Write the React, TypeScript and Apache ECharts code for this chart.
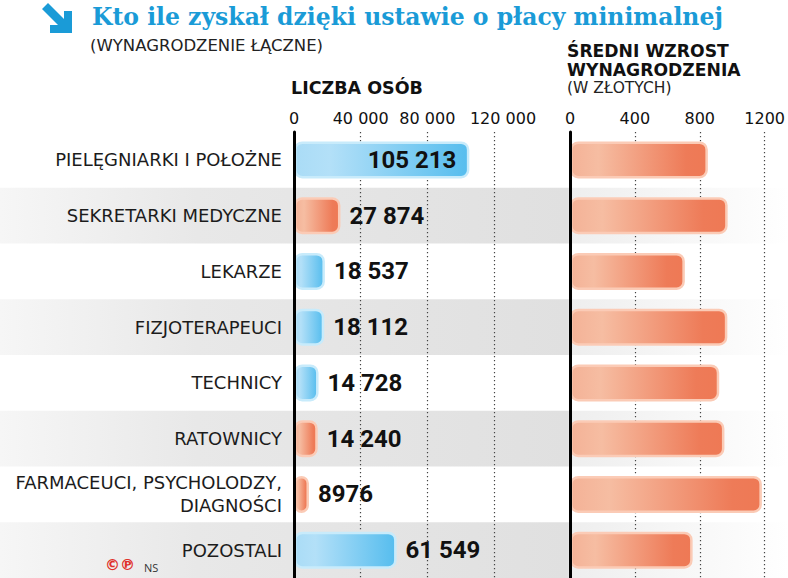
import React, { useEffect, useRef } from "react";
import * as echarts from "echarts";

const categories = [
  "PIELĘGNIARKI I POŁOŻNE",
  "SEKRETARKI MEDYCZNE",
  "LEKARZE",
  "FIZJOTERAPEUCI",
  "TECHNICY",
  "RATOWNICY",
  "FARMACEUCI, PSYCHOLODZY,\nDIAGNOŚCI",
  "POZOSTALI",
];
const peopleCount = [105213, 27874, 18537, 18112, 14728, 14240, 8976, 61549];
const peopleColorGroup = ["blue", "orange", "blue", "blue", "blue", "orange", "orange", "blue"];
const avgRaise = [850, 972, 708, 970, 920, 952, 1183, 756];
const peopleTicks = { min: 0, max: 120000, interval: 40000 };
const raiseTicks = { min: 0, max: 1200, interval: 400 };

const fmt = (v: number) => {
  if (v < 10000) return String(v);
  return String(v).replace(/\B(?=(\d{3})+(?!\d))/g, " ");
};

const blueGrad = () =>
  new echarts.graphic.LinearGradient(0, 0, 1, 0, [
    { offset: 0, color: "#aadcf6" },
    { offset: 0.2, color: "#b3e0f8" },
    { offset: 1, color: "#56bdee" },
  ]);
const orangeGrad = () =>
  new echarts.graphic.LinearGradient(0, 0, 1, 0, [
    { offset: 0, color: "#f4b297" },
    { offset: 0.2, color: "#f6bda2" },
    { offset: 0.85, color: "#ee7b58" },
    { offset: 1, color: "#ee7955" },
  ]);

export default function App() {
  const ref = useRef<HTMLDivElement>(null);
  useEffect(() => {
    document.body.style.margin = "0";
    const chart = echarts.init(ref.current!, null, { renderer: "svg" });
    const bandGrad = new echarts.graphic.LinearGradient(0, 0, 1, 0, [
      { offset: 0, color: "#f6f6f6" },
      { offset: 0.25, color: "#e8e8e8" },
      { offset: 0.72, color: "#e0e0e0" },
      { offset: 0.7236, color: "#eeeeee" },
      { offset: 1, color: "#ffffff" },
    ]);
    const sans = "'DejaVu Sans', 'Open Sans', sans-serif";
    const splitLine = {
      show: true,
      lineStyle: { type: [1.2, 2.8], color: "#444", width: 1.2 },
    };
    const tickLabel = {
      margin: 6,
      fontSize: 16,
      color: "#111",
      fontFamily: sans,
    };
    chart.setOption({
      animation: false,
      grid: [
        { left: 294, width: 200, top: 132, height: 446 },
        { left: 570, width: 199, top: 132, height: 446 },
        { left: 0, right: 0, top: 132, height: 446 },
      ],
      xAxis: [
        {
          gridIndex: 0,
          type: "value",
          position: "top",
          ...peopleTicks,
          axisLine: { show: false },
          axisTick: { show: false },
          axisLabel: {
            ...tickLabel,
            formatter: (v: number) => (v >= 120000 ? "{s|" + fmt(v) + "}" : fmt(v)),
            rich: { s: { padding: [0, 0, 0, 18], fontSize: 16, fontFamily: sans, color: "#111" } },
          },
          splitLine,
          z: 1,
        },
        {
          gridIndex: 1,
          type: "value",
          position: "top",
          ...raiseTicks,
          axisLine: { show: false },
          axisTick: { show: false },
          axisLabel: { ...tickLabel, formatter: (v: number) => String(v) },
          splitLine,
          z: 1,
        },
        { gridIndex: 2, type: "value", show: false },
      ],
      yAxis: [
        {
          gridIndex: 0,
          type: "category",
          inverse: true,
          data: categories,
          axisLine: { show: true, lineStyle: { color: "#000", width: 3 } },
          axisTick: { show: false },
          axisLabel: {
            margin: 12,
            fontSize: 18,
            lineHeight: 23,
            color: "#1c1c1c",
            fontFamily: sans,
          },
          z: 5,
        },
        {
          gridIndex: 1,
          type: "category",
          inverse: true,
          data: categories,
          axisLine: { show: true, lineStyle: { color: "#000", width: 3 } },
          axisTick: { show: false },
          axisLabel: { show: false },
          z: 5,
        },
        {
          gridIndex: 2,
          type: "category",
          inverse: true,
          data: categories,
          axisLine: { show: false },
          axisTick: { show: false },
          axisLabel: { show: false },
          splitArea: {
            show: true,
            areaStyle: { color: ["rgba(255,255,255,0)", bandGrad] },
          },
          z: -1,
        },
      ],
      series: [
        {
          type: "bar",
          xAxisIndex: 0,
          yAxisIndex: 0,
          barWidth: 37,
          z: 3,
          data: peopleCount.map((v, i) => ({
            value: v,
            itemStyle: {
              color: peopleColorGroup[i] === "blue" ? blueGrad() : orangeGrad(),
              borderColor: peopleColorGroup[i] === "blue" ? "#c8ebfb" : "#fbcbb6",
              borderWidth: 2.5,
              borderRadius: 7,
            },
            label: i === 0 ? { position: "insideRight", distance: 13 } : undefined,
          })),
          label: {
            show: true,
            position: "right",
            distance: 9,
            fontFamily: "Roboto, sans-serif",
            fontWeight: "bold",
            fontSize: 24,
            color: "#111",
            formatter: (p: any) => fmt(p.value),
          },
        },
        {
          type: "bar",
          xAxisIndex: 1,
          yAxisIndex: 1,
          barWidth: 37,
          z: 3,
          data: avgRaise.map((v) => ({
            value: v,
            itemStyle: {
              color: orangeGrad(),
              borderColor: "#fbcbb6",
              borderWidth: 2.5,
              borderRadius: 7,
            },
          })),
        },
      ],
      graphic: [
        {
          type: "polygon",
          x: 42,
          y: 3,
          shape: {
            points: [
              [0, 6],
              [6, 0],
              [22, 16],
              [22, 8],
              [30, 8],
              [30, 30],
              [8, 30],
              [8, 22],
              [16, 22],
            ],
          },
          style: { fill: "#1a9bd7" },
        },
        {
          type: "text",
          x: 92,
          y: 17,
          style: {
            text: "Kto ile zyskał dzięki ustawie o płacy minimalnej",
            font: "bold 23.5px 'DejaVu Serif', serif",
            fill: "#1a9bd7",
            verticalAlign: "middle",
          },
        },
        {
          type: "text",
          x: 90,
          y: 45,
          style: {
            text: "(WYNAGRODZENIE ŁĄCZNE)",
            font: "16.5px 'DejaVu Sans', sans-serif",
            fill: "#222",
            verticalAlign: "middle",
          },
        },
        {
          type: "text",
          x: 291,
          y: 88,
          style: {
            text: "LICZBA OSÓB",
            font: "bold 17.5px 'DejaVu Sans', sans-serif",
            fill: "#111",
            verticalAlign: "middle",
          },
        },
        {
          type: "text",
          x: 567,
          y: 60,
          style: {
            text: "ŚREDNI WZROST\nWYNAGRODZENIA",
            font: "bold 17.2px 'DejaVu Sans', sans-serif",
            lineHeight: 19,
            fill: "#111",
            verticalAlign: "middle",
          },
        },
        {
          type: "text",
          x: 567,
          y: 88,
          style: {
            text: "(W ZŁOTYCH)",
            font: "15.5px 'DejaVu Sans', sans-serif",
            fill: "#222",
            verticalAlign: "middle",
          },
        },
        {
          type: "text",
          x: 105,
          y: 565,
          style: {
            text: "©℗",
            font: "bold 15px 'DejaVu Sans', sans-serif",
            fill: "#e0302a",
            verticalAlign: "middle",
          },
        },
        {
          type: "text",
          x: 144,
          y: 567,
          style: {
            text: "NS",
            font: "11px 'Open Sans', sans-serif",
            fill: "#333",
            verticalAlign: "middle",
          },
        },
      ],
    });
    return () => chart.dispose();
  }, []);
  return <div ref={ref} style={{ width: 788, height: 578 }} />;
}
